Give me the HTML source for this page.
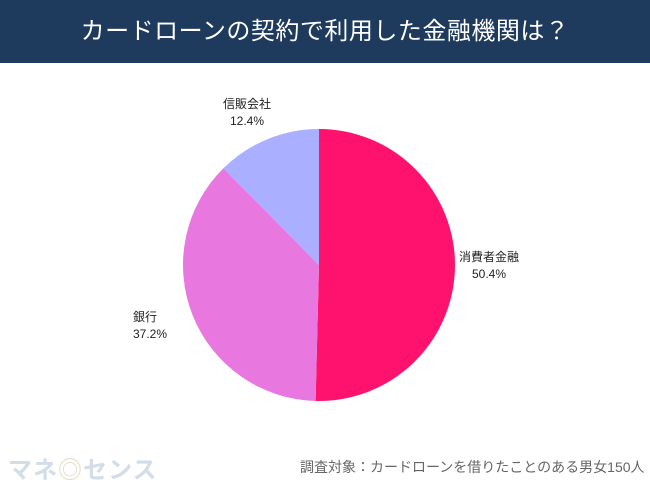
<!DOCTYPE html>
<html><head><meta charset="utf-8">
<style>
body{margin:0;width:650px;height:488px;background:#fff;font-family:"Liberation Sans","Noto Sans CJK JP",sans-serif;overflow:hidden;position:relative}
.hdr{position:absolute;left:0;top:0;width:650px;height:63px;background:#1e3a5c;color:#fff;font-size:24px;text-align:center;line-height:63px;letter-spacing:0.5px}
.lbl{position:absolute;font-size:12px;color:#222;text-align:center;line-height:17px}
</style></head><body>
<div class="hdr">カードローンの契約で利用した金融機関は？</div>
<svg id="pie" width="650" height="488" style="position:absolute;left:0;top:0"></svg>
<div class="lbl" style="left:459px;top:249px">消費者金融<br>50.4%</div>
<div class="lbl" style="left:133px;top:309px;text-align:left">銀行<br>37.2%</div>
<div class="lbl" style="left:223px;top:96px">信販会社<br>12.4%</div>
<div style="position:absolute;left:8px;top:450px;font-size:24px;font-weight:bold;color:#d3dde8;letter-spacing:1px">マネ<span style="color:#e4e0c8">◎</span>センス</div>
<div style="position:absolute;left:300px;top:457px;font-size:14px;color:#666">調査対象：カードローンを借りたことのある男女150人</div>
<script>
const categories=["消費者金融","銀行","信販会社"];
const values=[50.4,37.2,12.4];
const colors=["#ff126e","#e878e0","#aab0ff"];
const svg=document.getElementById('pie');
const cx=319,cy=265,r=136;
const total=values.reduce((a,b)=>a+b,0);
let a0=0;
values.forEach((v,i)=>{
  const a1=a0+v/total*Math.PI*2;
  const x0=cx+r*Math.sin(a0),y0=cy-r*Math.cos(a0);
  const x1=cx+r*Math.sin(a1),y1=cy-r*Math.cos(a1);
  const p=document.createElementNS('http://www.w3.org/2000/svg','path');
  p.setAttribute('d',`M${cx},${cy}L${x0},${y0}A${r},${r} 0 ${a1-a0>Math.PI?1:0} 1 ${x1},${y1}Z`);
  p.setAttribute('fill',colors[i]);
  
  
  svg.appendChild(p);
  a0=a1;
});
</script>
</body></html>
